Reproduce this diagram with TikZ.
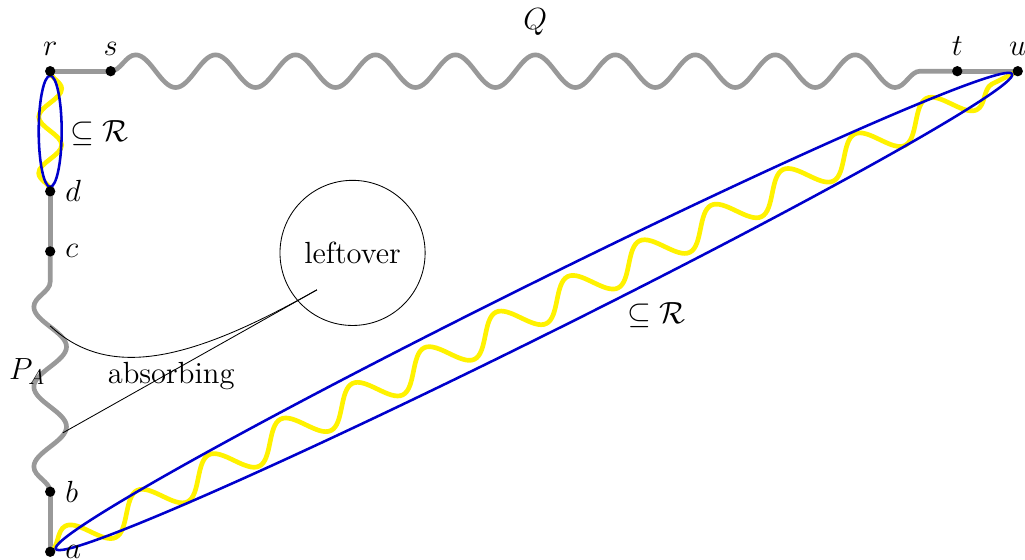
\documentclass[tikz,border=0pt]{standalone}
\usepackage{amsmath,amssymb}
\usetikzlibrary{decorations.pathmorphing}

\tikzset{
  vtx/.style={circle,fill=black,inner sep=0pt,minimum size=0.17cm},
  gpath/.style={line width=2.2pt,black!40},
  ypath/.style={line width=2.2pt,yellow},
  rset/.style={line width=1.2pt,blue!80!black},
  wave/.style={decorate,decoration={snake,amplitude=.27cm,segment length=1.322cm}},
}

\begin{document}
\begin{tikzpicture}[font=\Large,y=0.9934cm]
  \useasboundingbox (-0.83,-0.133) rectangle (16.12,9.185);
  % the vertices on the cycle
  \foreach \n/\x/\y in {r/0/8, s/1/8, t/15/8, u/16/8, d/0/6, c/0/5, b/0/1, a/0/0}
    \coordinate (\n) at (\x,\y);
  % grey parts of the cycle
  \draw[gpath] (a) -- (b);
  \draw[gpath,wave] (b) -- (c);
  \draw[gpath] (c) -- (d);
  \draw[gpath] (r) -- (s);
  \draw[gpath,wave] (s) -- (t);
  \draw[gpath] (t) -- (u);
  % parts inside R
  \draw[ypath,decorate,decoration={snake,amplitude=.19cm,segment length=.93cm}] (r) -- (d);
  \draw[ypath,wave,decoration={segment length=1.325cm}] (a) -- (u);
  \draw[rset] (0,7) ellipse (0.19cm and 0.92cm);
  \draw[rset,rotate around={26.41:(8,4)}] (8,4) ellipse (8.83cm and 0.43cm);
  \node (sub1) at (0.81,6.97) {$\subseteq\mathcal{R}$};
  \node (sub2) at (10.02,3.94) {$\subseteq\mathcal{R}$};
  % dots and their names
  \foreach \n/\p in {r/above, s/above, t/above, u/above, d/right, c/right, b/right, a/right}
    \node[vtx,label={[label distance=1pt]\p:$\n$}] (v\n) at (\n) {};
  \node (q) at (8.02,8.82) {$Q$};
  \node (pa) at (-0.38,3) {$P_A$};
  % absorbing edge into the leftover
  \node[circle,draw,minimum size=2.4cm] (left) at (5,4.975) {leftover};
  \node (absorb) at (2,2.93) {absorbing};
  \coordinate (h) at (4.41,4.36);
  \coordinate (h1) at (0,3.76);
  \coordinate (h2) at (0.21,1.98);
  \draw (h1) .. controls (1,2.82) and (2.4,3.22) .. (h);
  \draw (h2) -- (h);
\end{tikzpicture}
\end{document}
